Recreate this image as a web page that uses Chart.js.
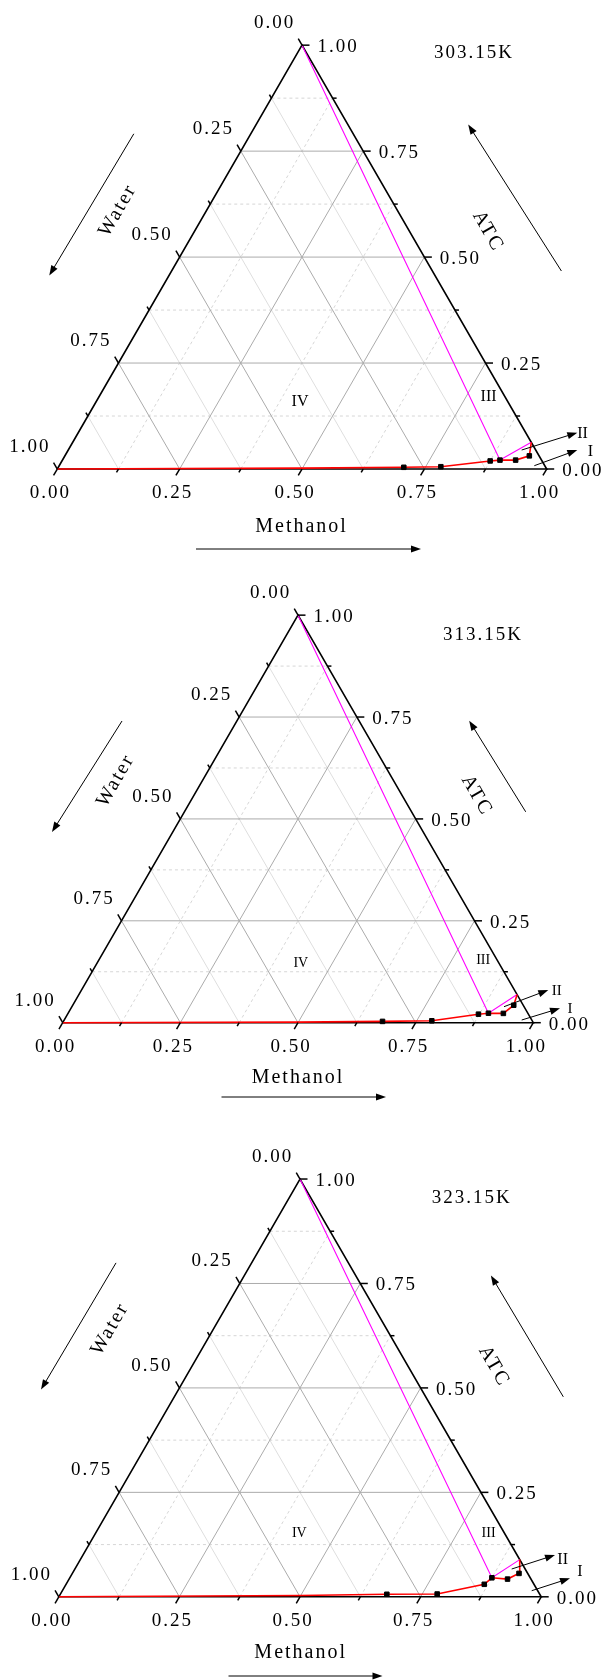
<!DOCTYPE html>
<html><head><meta charset="utf-8">
<script src="https://cdn.jsdelivr.net/npm/chart.js@4.4.1/dist/chart.umd.min.js"></script>
<style>html,body{margin:0;padding:0;background:#fff;}canvas{display:block;}</style>
</head><body>
<canvas id="c1" width="607" height="560"></canvas>
<canvas id="c2" width="607" height="560"></canvas>
<canvas id="c3" width="607" height="560"></canvas>
<script>
// ---------- data ----------
const temperatures = ['303.15K', '313.15K', '323.15K'];
const tickValues = [0, 0.25, 0.5, 0.75, 1];
const tickLabels = ['0.00', '0.25', '0.50', '0.75', '1.00'];
const minorTickValues = [0.125, 0.375, 0.625, 0.875];
const axisTitles = ['Methanol', 'Water', 'ATC'];
const regionLabels = ['IV', 'III', 'II', 'I'];

// binodal curve: methanol and ATC mass fractions (water = 1 - methanol - ATC)
const methanol303 = [0, 0.50, 0.706, 0.781, 0.875, 0.894, 0.926, 0.949, 0.937];
const atc303      = [0, 0.002, 0.004, 0.0054, 0.019, 0.021, 0.021, 0.031, 0.063];
const measured303 = [0, 0, 1, 1, 1, 1, 1, 1, 0];

const methanol313 = [0, 0.50, 0.678, 0.782, 0.873, 0.893, 0.925, 0.937, 0.931];
const atc313      = [0, 0.0015, 0.0032, 0.0047, 0.0209, 0.0233, 0.0228, 0.0429, 0.0692];
const measured313 = [0, 0, 1, 1, 1, 1, 1, 1, 0];

const methanol323 = [0, 0.50, 0.677, 0.781, 0.867, 0.875, 0.909, 0.926, 0.911];
const atc323      = [0, 0.003, 0.006, 0.0067, 0.0299, 0.0455, 0.0424, 0.056, 0.089];
const measured323 = [0, 0, 1, 1, 1, 1, 1, 1, 0];

// phase boundary lines (magenta): ATC vertex -> invariant point -> ATC/methanol side
const tieMethanol303 = [0, 0.894, 0.937];
const tieAtc303      = [1, 0.021, 0.063];
const tieMethanol313 = [0, 0.893, 0.931];
const tieAtc313      = [1, 0.0233, 0.0692];
const tieMethanol323 = [0, 0.875, 0.911];
const tieAtc323      = [1, 0.0455, 0.089];

// ---------- layout (pixels, per canvas) ----------
const panels = [
  { id: 'c1', temp: temperatures[0], m: methanol303, a: atc303, meas: measured303, tm: tieMethanol303, ta: tieAtc303,
    ox: 57.3, oy: 469, w: 489.4,
    tempPos: [434, 53.5], methPos: [300.6, 526.8], methArrow: [196, 549, 421, 549],
    waterPos: [117.3, 211.3], waterArrow: [133.8, 133.8, 49.3, 275.4],
    atcPos: [487.5, 230.5], atcArrow: [561.4, 271, 468.2, 124.5],
    regionPos: [[300, 401.8], [488.6, 396.4], [582.5, 433.3], [590.5, 451.5]],
    regionFont: [16, 16, 16, 16],
    arrowII: [521.7, 450, 577.3, 432.7], arrowI: [534.3, 465.7, 577.3, 450] },
  { id: 'c2', temp: temperatures[1], m: methanol313, a: atc313, meas: measured313, tm: tieMethanol313, ta: tieAtc313,
    ox: 62.7, oy: 462.7, w: 470.6,
    tempPos: [443, 75], methPos: [297, 517.9], methArrow: [221.5, 537, 386, 537],
    waterPos: [115.2, 221.4], waterArrow: [122, 161, 52, 272],
    atcPos: [476.2, 234.6], atcArrow: [525.7, 251.8, 469.2, 160.7],
    regionPos: [[300.8, 402.9], [483.2, 400.7], [556.7, 431], [570, 449.3]],
    regionFont: [14, 14, 15, 15],
    arrowII: [504, 446.7, 548.3, 430], arrowI: [521.7, 460, 560, 448.3] },
  { id: 'c3', temp: temperatures[2], m: methanol323, a: atc323, meas: measured323, tm: tieMethanol323, ta: tieAtc323,
    ox: 58.8, oy: 476.8, w: 482.4,
    tempPos: [431.7, 77.9], methPos: [299.7, 532.9], methArrow: [228.5, 556, 382.5, 556],
    waterPos: [109.4, 209.8], waterArrow: [116, 142.9, 41, 269.6],
    atcPos: [493.6, 245.5], atcArrow: [563.3, 276.8, 490.9, 155.4],
    regionPos: [[299.3, 413.2], [488.6, 413.2], [562.7, 439.3], [580, 451.7]],
    regionFont: [14, 14, 16, 16],
    arrowII: [511.7, 449, 555, 435], arrowI: [531.7, 470.7, 570, 458.3] }
];

const H = Math.sqrt(3) / 2;
function tern(m, a) { return { x: m + a / 2, y: a * H }; }
const GAP = { x: null, y: null };

function gridSegs(values, fams) {
  const pts = [];
  values.forEach(v => {
    if (fams.includes('atc')) pts.push(tern(0, v), tern(1 - v, v), GAP);
    if (fams.includes('methanol')) pts.push(tern(v, 0), tern(v, 1 - v), GAP);
    if (fams.includes('water')) pts.push(tern(1 - v, 0), tern(0, 1 - v), GAP);
  });
  return pts;
}
const majorGridValues = tickValues.filter(v => v > 0 && v < 1);

const FONT = '"Liberation Serif", "Times New Roman", serif';

function arrow(ctx, x1, y1, x2, y2) {
  const ang = Math.atan2(y2 - y1, x2 - x1);
  const hl = 10, hw = 3.6;
  ctx.beginPath();
  ctx.moveTo(x1, y1);
  ctx.lineTo(x2 - hl * 0.8 * Math.cos(ang), y2 - hl * 0.8 * Math.sin(ang));
  ctx.stroke();
  ctx.beginPath();
  ctx.moveTo(x2, y2);
  ctx.lineTo(x2 - hl * Math.cos(ang) + hw * Math.sin(ang), y2 - hl * Math.sin(ang) - hw * Math.cos(ang));
  ctx.lineTo(x2 - hl * Math.cos(ang) - hw * Math.sin(ang), y2 - hl * Math.sin(ang) + hw * Math.cos(ang));
  ctx.closePath();
  ctx.fill();
}

function text(ctx, s, x, y, size, align, ls, rot) {
  ctx.save();
  ctx.font = size + 'px ' + FONT;
  try { ctx.letterSpacing = (ls || 0) + 'px'; } catch (e) {}
  ctx.textAlign = align || 'center';
  ctx.textBaseline = 'middle';
  ctx.fillStyle = '#000';
  ctx.translate(x, y);
  if (rot) ctx.rotate(rot);
  const dx = (align === 'center' || !align) ? (ls || 0) / 2 : 0;
  ctx.fillText(s, dx, 0);
  ctx.restore();
}

function makeChart(p) {
  const W = 607, Hc = 560;
  const xmin = -p.ox / p.w, xmax = (W - p.ox) / p.w;
  const ymin = -(Hc - p.oy) / p.w, ymax = p.oy / p.w;

  const binodal = p.m.map((m, i) => tern(m, p.a[i]));
  const tie = p.tm.map((m, i) => tern(m, p.ta[i]));
  const edges = [tern(0, 0), tern(1, 0), tern(0, 1), tern(0, 0)];

  const plugin = {
    id: 'ternaryAxes',
    afterDatasetsDraw(chart) {
      const ctx = chart.ctx;
      const sx = chart.scales.x, sy = chart.scales.y;
      const P = (m, a) => { const t = tern(m, a); return [sx.getPixelForValue(t.x), sy.getPixelForValue(t.y)]; };
      ctx.save();
      ctx.strokeStyle = '#000';
      ctx.fillStyle = '#000';
      ctx.lineWidth = 1.5;
      const drawTicks = (vals, L) => {
        vals.forEach(v => {
          let [x, y] = P(v, 0);
          ctx.beginPath(); ctx.moveTo(x, y); ctx.lineTo(x - 0.5 * L, y + H * L); ctx.stroke();
          [x, y] = P(1 - v, v);
          ctx.beginPath(); ctx.moveTo(x, y); ctx.lineTo(x + L, y); ctx.stroke();
          [x, y] = P(0, 1 - v);
          ctx.beginPath(); ctx.moveTo(x, y); ctx.lineTo(x - 0.5 * L, y - H * L); ctx.stroke();
        });
      };
      drawTicks(tickValues, 7.5);
      drawTicks(minorTickValues, 4);
      tickValues.forEach((v, i) => {
        let [x, y] = P(v, 0);
        text(ctx, tickLabels[i], x - 8, y + 24.3, 19, 'center', 2);
        [x, y] = P(1 - v, v);
        text(ctx, tickLabels[i], x + 15.5, y + 2, 19, 'left', 2);
        [x, y] = P(0, 1 - v);
        text(ctx, tickLabels[i], x - 28.5, y - 22, 19, 'center', 2);
      });
      // titles
      text(ctx, p.temp, p.tempPos[0], p.tempPos[1], 19, 'left', 2);
      text(ctx, axisTitles[0], p.methPos[0], p.methPos[1], 20, 'center', 2);
      text(ctx, axisTitles[1], p.waterPos[0], p.waterPos[1], 20, 'center', 2, -Math.PI / 3);
      text(ctx, axisTitles[2], p.atcPos[0], p.atcPos[1], 20, 'center', 2, Math.PI / 3);
      ctx.lineWidth = 1;
      arrow(ctx, ...p.methArrow);
      arrow(ctx, ...p.waterArrow);
      arrow(ctx, ...p.atcArrow);
      arrow(ctx, ...p.arrowII);
      arrow(ctx, ...p.arrowI);
      regionLabels.forEach((r, i) => {
        text(ctx, r, p.regionPos[i][0], p.regionPos[i][1], p.regionFont[i], 'center', 0);
      });
      ctx.restore();
    }
  };

  return new Chart(document.getElementById(p.id), {
    type: 'scatter',
    data: {
      datasets: [
        { data: binodal, showLine: true, borderColor: '#ff0000', borderWidth: 1.6,
          pointRadius: p.meas.map(f => f ? 3.2 : 0), pointStyle: 'rect',
          pointBackgroundColor: '#000', pointBorderColor: '#000', pointBorderWidth: 1, order: 0 },
        { data: tie, showLine: true, borderColor: '#ff00ff', borderWidth: 1.1, pointRadius: 0, order: 1 },
        { data: edges, showLine: true, borderColor: '#000', borderWidth: 1.6, pointRadius: 0, order: 2 },
        { data: gridSegs(majorGridValues, ['atc', 'methanol', 'water']), showLine: true,
          borderColor: '#ababab', borderWidth: 1, pointRadius: 0, order: 3 },
        { data: gridSegs(minorTickValues, ['atc', 'methanol']), showLine: true,
          borderColor: '#d6d6d6', borderWidth: 1, borderDash: [3, 3], pointRadius: 0, order: 4 },
        { data: gridSegs(minorTickValues, ['water']), showLine: true,
          borderColor: '#dedede', borderWidth: 1, pointRadius: 0, order: 5 }
      ]
    },
    options: {
      responsive: false, animation: false, devicePixelRatio: 1,
      layout: { padding: 0 },
      events: [],
      plugins: { legend: { display: false }, tooltip: { enabled: false } },
      elements: { line: { tension: 0 } },
      scales: {
        x: { type: 'linear', min: xmin, max: xmax, display: false },
        y: { type: 'linear', min: ymin, max: ymax, display: false }
      }
    },
    plugins: [plugin]
  });
}

panels.forEach(makeChart);
</script>
</body></html>
